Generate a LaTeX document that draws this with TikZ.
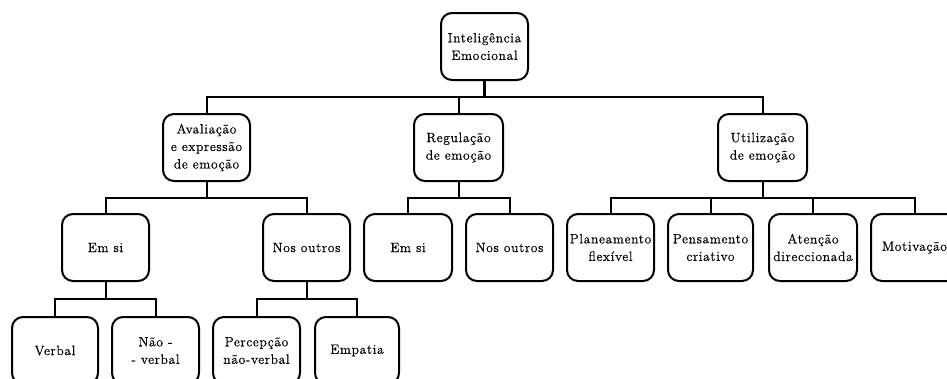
\documentclass[tikz,border=0pt]{standalone}
\usepackage{fontspec}
\setmainfont{Latin Modern Roman}[LetterSpace=5,FakeBold=0.6]
\begin{document}
\begin{tikzpicture}[x=1pt,y=-1pt,
  box/.style={draw,line width=2pt,rounded corners=11pt,minimum width=87pt,minimum height=67pt,
    inner sep=0pt,align=center,font=\fontsize{13.5}{17.5}\selectfont},
  conn/.style={line width=2pt}]
\useasboundingbox (0,0) rectangle (947,378);
\begin{scope}
\clip (0,0) rectangle (947,378);
% level 0
\node[box] (root) at (484.5,46.5) {Inteligência\\Emocional};
% level 1
\node[box] (aval) at (206.5,147.5) {Avaliação\\e expressão\\de emoção};
\node[box,minimum width=89pt] (regu) at (458.5,147.5) {Regulação\\de emoção};
\node[box,minimum width=89pt] (util) at (762.5,147.5) {Utilização\\de emoção};
% level 2
\node[box] (emsiA) at (105.5,247.5) {Em si};
\node[box] (nosA) at (306.5,247.5) {Nos outros};
\node[box,minimum width=88pt] (emsiB) at (408,247.5) {Em si};
\node[box] (nosB) at (509.5,247.5) {Nos outros};
\node[box] (plan) at (610.5,247.5) {Planeamento\\flexível};
\node[box,minimum width=85pt] (pens) at (710.5,247.5) {Pensamento\\criativo};
\node[box,minimum width=88pt] (aten) at (813,247.5) {Atenção\\direccionada};
\node[box] (moti) at (914.5,247.5) {Motivação};
% level 3
\node[box,minimum width=86pt] (verb) at (55,350.5) {Verbal};
\node[box] (nao) at (155.5,350.5) {Não -\\- verbal};
\node[box] (perc) at (256.5,350.5) {Percepção\\não-verbal};
\node[box,minimum width=84pt] (empa) at (357,350.5) {Empatia};
% connectors level 0 -> 1
\draw[line width=3pt] (root.south) -- (root.south |- 0,97);
\draw[conn] (aval.north) -- (aval.north |- 0,97) -- (util.north |- 0,97) -- (util.north);
\draw[conn] (regu.north) -- (regu.north |- 0,97);
% aval -> children
\draw[conn] (aval.south) -- (aval.south |- 0,198);
\draw[conn] (emsiA.north) -- (emsiA.north |- 0,198) -- (nosA.north |- 0,198) -- (nosA.north);
% regu -> children
\draw[conn] (regu.south) -- (regu.south |- 0,198);
\draw[conn] (emsiB.north) -- (emsiB.north |- 0,198) -- (nosB.north |- 0,198) -- (nosB.north);
% util -> children
\draw[conn] (util.south) -- (util.south |- 0,198);
\draw[conn] (plan.north) -- (plan.north |- 0,198) -- (moti.north |- 0,198) -- (moti.north);
\draw[conn] (pens.north) -- (pens.north |- 0,198);
\draw[conn] (aten.north) -- (aten.north |- 0,198);
% emsiA -> children
\draw[conn] (emsiA.south) -- (emsiA.south |- 0,299);
\draw[conn] (verb.north) -- (verb.north |- 0,299) -- (nao.north |- 0,299) -- (nao.north);
% nosA -> children
\draw[conn] (nosA.south) -- (nosA.south |- 0,299);
\draw[conn] (perc.north) -- (perc.north |- 0,299) -- (empa.north |- 0,299) -- (empa.north);
\end{scope}
\end{tikzpicture}
\end{document}
